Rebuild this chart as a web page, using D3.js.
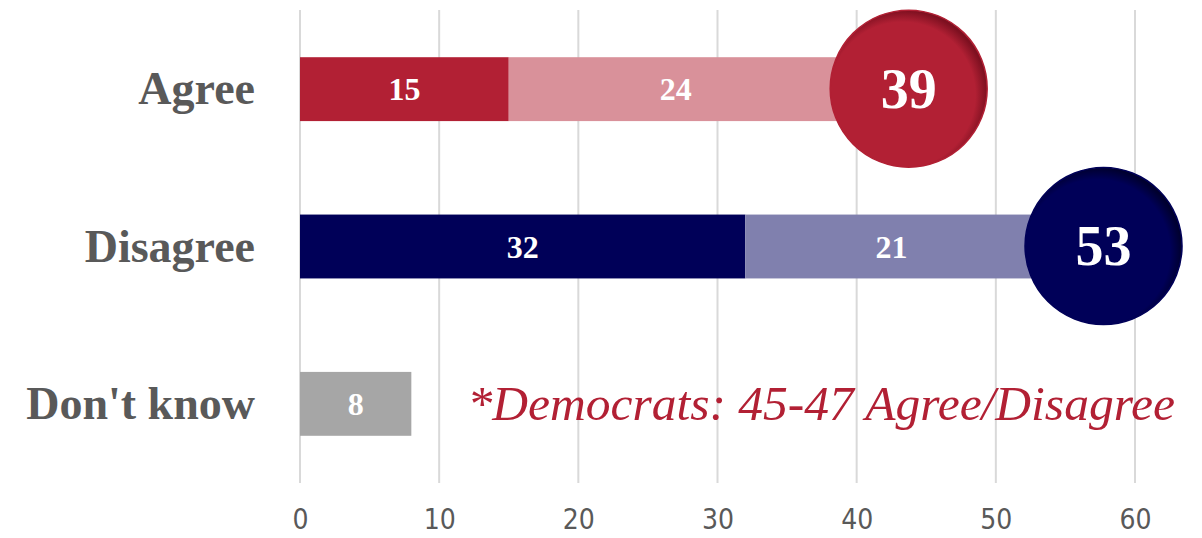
<!DOCTYPE html>
<html lang="en">
<head>
	<meta charset="UTF-8">
	<title>Agree / Disagree</title>
	<script type="text/javascript" src="https://cdn.jsdelivr.net/npm/d3@7"></script>
	<style>
		body {
			margin: 0;
			background: #fff;
		}

		svg text {
			font-family: "Liberation Serif", serif;
		}

		.tick-label {
			font-family: "Liberation Sans Narrow", "DejaVu Sans Condensed", sans-serif !important;
		}
	</style>
</head>
<body>
<div id="chart"></div>

<script type="text/javascript">
	// values
	var categories = ["Agree", "Disagree", "Don't know"];
	var strongly = [15, 32, 8];
	var somewhat = [24, 21, 0];
	var totals = [39, 53, null];
	var tickValues = [0, 10, 20, 30, 40, 50, 60];
	var note = "*Democrats: 45-47 Agree/Disagree";

	var darkColors = ['#b22034', '#000058', '#a6a6a6'];
	var lightColors = ['#d9919a', '#8080ae', '#a6a6a6'];

	var W = 1202, H = 538;
	var margin = {top: 10, left: 300, right: 67, bottom: 55};
	var width = W - margin.left - margin.right;
	var height = H - margin.top - margin.bottom;

	var svg = d3.select('#chart')
		.append('svg')
		.attr('width', W)
		.attr('height', H);

	var defs = svg.append('defs');
	[['grad-red', '#b22034', '#7d1020'], ['grad-navy', '#000058', '#00002e']].forEach(function (g) {
		var rg = defs.append('radialGradient')
			.attr('id', g[0])
			.attr('cx', '46%').attr('cy', '54%').attr('r', '54%');
		rg.append('stop').attr('offset', '0.86').attr('stop-color', g[1]);
		rg.append('stop').attr('offset', '1').attr('stop-color', g[2]);
	});

	var g = svg.append('g')
		.attr('transform', 'translate(' + margin.left + ',' + margin.top + ')');

	var x = d3.scaleLinear()
		.domain([0, 60])
		.range([0, width]);

	var y = d3.scaleBand()
		.domain(categories)
		.range([0, height])
		.paddingInner(0.594)
		.paddingOuter(0.3);

	// gridlines
	g.selectAll('.grid')
		.data(tickValues)
		.enter().append('line')
		.attr('class', 'grid')
		.attr('x1', function (d) { return x(d); })
		.attr('x2', function (d) { return x(d); })
		.attr('y1', 0)
		.attr('y2', height)
		.style('stroke', '#d9d9d9')
		.style('stroke-width', 2);

	// x axis labels
	var xAxis = d3.axisBottom(x)
		.tickValues(tickValues)
		.tickSize(0)
		.tickPadding(26);

	var gx = g.append('g')
		.attr('transform', 'translate(0,' + height + ')')
		.call(xAxis);
	gx.select('.domain').remove();
	gx.selectAll('text')
		.attr('class', 'tick-label')
		.attr('font-size', 28)
		.attr('fill', '#595959');

	var rows = categories.map(function (c, i) {
		return {cat: c, i: i, a: strongly[i], b: somewhat[i], total: totals[i]};
	});

	// bars: first segment
	g.selectAll('.seg-a')
		.data(rows)
		.enter().append('rect')
		.attr('class', 'seg-a')
		.attr('x', x(0))
		.attr('y', function (d) { return y(d.cat); })
		.attr('width', function (d) { return x(d.a) - x(0); })
		.attr('height', y.bandwidth())
		.style('fill', function (d) { return darkColors[d.i]; });

	// second segment
	g.selectAll('.seg-b')
		.data(rows.filter(function (d) { return d.b > 0; }))
		.enter().append('rect')
		.attr('class', 'seg-b')
		.attr('x', function (d) { return x(d.a); })
		.attr('y', function (d) { return y(d.cat); })
		.attr('width', function (d) { return x(d.a + d.b) - x(d.a); })
		.attr('height', y.bandwidth())
		.style('fill', function (d) { return lightColors[d.i]; });

	// segment labels
	g.selectAll('.lab-a')
		.data(rows)
		.enter().append('text')
		.attr('class', 'lab-a')
		.attr('x', function (d) { return (x(0) + x(d.a)) / 2; })
		.attr('y', function (d) { return y(d.cat) + y.bandwidth() / 2; })
		.attr('dy', '0.35em')
		.attr('text-anchor', 'middle')
		.attr('font-weight', 'bold')
		.attr('font-size', 32)
		.attr('fill', '#fff')
		.text(function (d) { return d.a; });

	g.selectAll('.lab-b')
		.data(rows.filter(function (d) { return d.b > 0; }))
		.enter().append('text')
		.attr('class', 'lab-b')
		.attr('x', function (d) { return (x(d.a) + x(d.a + d.b)) / 2; })
		.attr('y', function (d) { return y(d.cat) + y.bandwidth() / 2; })
		.attr('dy', '0.35em')
		.attr('text-anchor', 'middle')
		.attr('font-weight', 'bold')
		.attr('font-size', 32)
		.attr('fill', '#fff')
		.text(function (d) { return d.b; });

	// total bubbles
	var r = 78.5;
	var bubbles = g.selectAll('.bubble')
		.data(rows.filter(function (d) { return d.total !== null; }))
		.enter().append('g')
		.attr('class', 'bubble')
		.attr('transform', function (d) {
			return 'translate(' + (x(d.total) + r * 0.84) + ',' + (y(d.cat) + y.bandwidth() / 2 - 0.5) + ')';
		});

	bubbles.append('circle')
		.attr('r', r)
		.style('fill', function (d) { return d.i === 0 ? 'url(#grad-red)' : 'url(#grad-navy)'; })
		.style('stroke', function (d) { return darkColors[d.i]; })
		.style('stroke-width', 1.5);

	bubbles.append('text')
		.attr('text-anchor', 'middle')
		.attr('dy', '0.34em')
		.attr('font-weight', 'bold')
		.attr('font-size', 56)
		.attr('fill', '#fff')
		.text(function (d) { return d.total; });

	// category labels
	g.selectAll('.cat')
		.data(categories)
		.enter().append('text')
		.attr('class', 'cat')
		.attr('x', -45)
		.attr('y', function (d) { return y(d) + y.bandwidth() / 2; })
		.attr('dy', '0.33em')
		.attr('text-anchor', 'end')
		.attr('font-weight', 'bold')
		.attr('font-size', 46)
		.attr('fill', '#595959')
		.text(function (d) { return d; });

	// note
	g.append('text')
		.attr('x', width + 40)
		.attr('y', y(categories[2]) + y.bandwidth() / 2)
		.attr('dy', '0.33em')
		.attr('text-anchor', 'end')
		.attr('font-style', 'italic')
		.attr('font-size', 49.5)
		.attr('fill', '#b22034')
		.text(note);
</script>
</body>
</html>
